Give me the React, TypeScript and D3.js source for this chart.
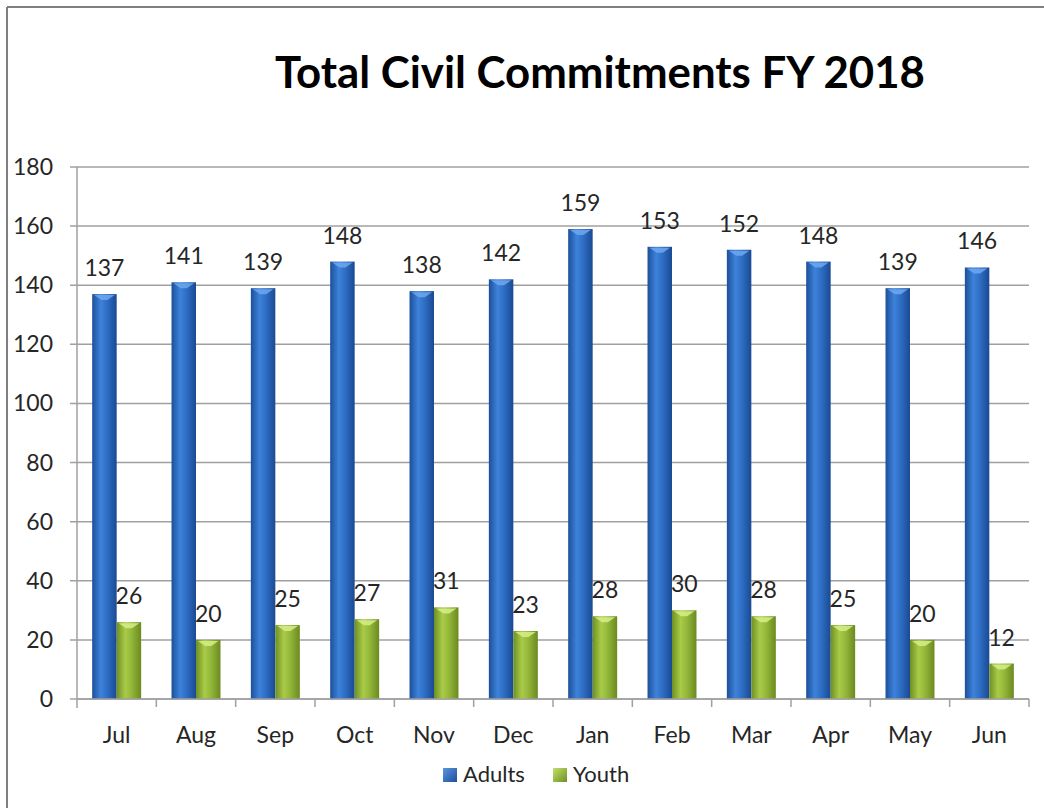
import React from "react";
import * as d3 from "d3";

const categories = ["Jul", "Aug", "Sep", "Oct", "Nov", "Dec", "Jan", "Feb", "Mar", "Apr", "May", "Jun"];
const seriesNames = ["Adults", "Youth"];
const adults = [137, 141, 139, 148, 138, 142, 159, 153, 152, 148, 139, 146];
const youth = [26, 20, 25, 27, 31, 23, 28, 30, 28, 25, 20, 12];
const yTicks = [0, 20, 40, 60, 80, 100, 120, 140, 160, 180];
const title = "Total Civil Commitments FY 2018";

const W = 1044;
const H = 808;
const FONT = "Lato, 'Open Sans', 'DejaVu Sans', sans-serif";

export default function App() {
  const left = 77, right = 1029, top = 167, bottom = 699;
  const x0 = d3.scaleBand<string>().domain(categories).range([left, right]).padding(0);
  const x1 = d3.scaleBand<string>().domain(seriesNames).range([0, x0.bandwidth()]).paddingInner(0).paddingOuter(0.62);
  const y = d3.scaleLinear().domain([0, 180]).range([bottom, top]);
  const values = [adults, youth];
  const fills = ["url(#gBlue)", "url(#gGreen)"];
  const caps = ["#6fa8ee", "#d6ee8a"];
  const legendColors = ["url(#gBlueL)", "url(#gGreenL)"];

  return (
    <svg width={W} height={H} style={{ position: "absolute", left: 0, top: 0, background: "#fff" }}>
      <defs>
        <linearGradient id="gBlue" x1="0" x2="1" y1="0" y2="0">
          <stop offset="0" stopColor="#1c4f9a" />
          <stop offset="0.35" stopColor="#3d82da" />
          <stop offset="0.6" stopColor="#2f6fc6" />
          <stop offset="1" stopColor="#1a4a92" />
        </linearGradient>
        <linearGradient id="gGreen" x1="0" x2="1" y1="0" y2="0">
          <stop offset="0" stopColor="#6f8f22" />
          <stop offset="0.35" stopColor="#a9cb48" />
          <stop offset="0.6" stopColor="#94b83a" />
          <stop offset="1" stopColor="#6b8a20" />
        </linearGradient>
        <linearGradient id="gBlueL" x1="0" x2="1" y1="0" y2="1">
          <stop offset="0" stopColor="#5a95e0" />
          <stop offset="1" stopColor="#1c4f9a" />
        </linearGradient>
        <linearGradient id="gGreenL" x1="0" x2="1" y1="0" y2="1">
          <stop offset="0" stopColor="#c3e06a" />
          <stop offset="1" stopColor="#6f8f22" />
        </linearGradient>
      </defs>
      <rect x={0} y={0} width={W} height={H} fill="#ffffff" />
      {/* outer border */}
      <line x1={7} y1={7} x2={W} y2={7} stroke="#7f7f7f" strokeWidth={2} />
      <line x1={7} y1={7} x2={7} y2={H} stroke="#7f7f7f" strokeWidth={2} />

      {/* title */}
      <text x={275} y={88} fontFamily={FONT} fontWeight={700} fontSize={44} fill="#000" textLength={650} lengthAdjust="spacingAndGlyphs">
        {title}
      </text>

      {/* gridlines + y ticks */}
      {yTicks.map((t) => (
        <g key={t}>
          <line x1={left - 7} x2={right} y1={y(t)} y2={y(t)} stroke="#a0a0a0" strokeWidth={1.5} />
          <text x={53} y={y(t)} dy="0.35em" textAnchor="end" fontFamily={FONT} fontSize={23} fill="#262626">
            {t}
          </text>
        </g>
      ))}
      {/* axes */}
      <line x1={left} x2={left} y1={top} y2={bottom + 9} stroke="#a0a0a0" strokeWidth={1.5} />
      {categories.map((c) => (
        <line key={"tk" + c} x1={(x0(c) as number) + x0.bandwidth()} x2={(x0(c) as number) + x0.bandwidth()} y1={bottom} y2={bottom + 8} stroke="#a0a0a0" strokeWidth={1.5} />
      ))}

      {/* bars */}
      {categories.map((c, i) => (
        <g key={c} transform={`translate(${x0(c)},0)`}>
          {seriesNames.map((s, si) => {
            const v = values[si][i];
            const bx = x1(s) as number;
            const bw = x1.bandwidth();
            const by = y(v);
            return (
              <g key={s}>
                <rect x={bx} y={by} width={bw} height={bottom - by} fill={fills[si]} />
                <path
                  d={`M${bx + 2},${by + 1} L${bx + bw - 2},${by + 1} L${bx + bw / 2 + 3},${by + 6} L${bx + bw / 2 - 3},${by + 6} Z`}
                  fill={caps[si]}
                  opacity={0.85}
                />
                <text x={bx + bw / 2} y={by - 18} textAnchor="middle" fontFamily={FONT} fontSize={23} fill="#262626">
                  {v}
                </text>
              </g>
            );
          })}
        </g>
      ))}
      <line x1={left} x2={right} y1={bottom} y2={bottom} stroke="#a0a0a0" strokeWidth={1.5} />

      {/* category labels */}
      {categories.map((c) => (
        <text key={"l" + c} x={(x0(c) as number) + x0.bandwidth() / 2} y={743} textAnchor="middle" fontFamily={FONT} fontSize={23} fill="#262626">
          {c}
        </text>
      ))}

      {/* legend */}
      {seriesNames.map((s, i) => {
        const lx = i === 0 ? 443 : 553;
        return (
          <g key={"lg" + s}>
            <rect x={lx} y={768} width={14} height={14} fill={legendColors[i]} />
            <text x={lx + 20} y={782} fontFamily={FONT} fontSize={22} fill="#262626">
              {s}
            </text>
          </g>
        );
      })}
    </svg>
  );
}
